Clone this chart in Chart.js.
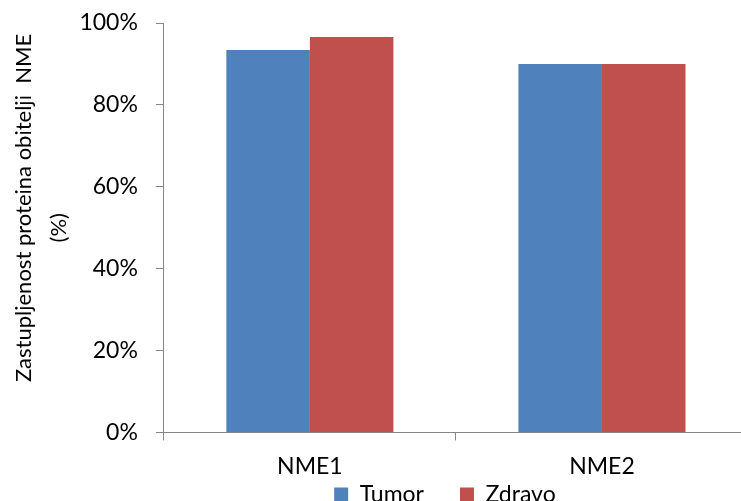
<!DOCTYPE html>
<html>
<head>
<meta charset="utf-8">
<script src="https://cdn.jsdelivr.net/npm/chart.js@4"></script>
<style>
  html, body { margin: 0; padding: 0; background: #fff; overflow: hidden; }
  #wrap { width: 741px; height: 501px; overflow: hidden; }
  canvas { display: block; }
</style>
</head>
<body>
<div id="wrap"><canvas id="chart" width="760" height="561"></canvas></div>
<script>
// DATA
const categories = ["NME1", "NME2"];
const seriesNames = ["Tumor", "Zdravo"];
const tumorValues = [0.934, 0.90];
const zdravoValues = [0.966, 0.90];
const yTicks = [0, 0.2, 0.4, 0.6, 0.8, 1.0];

const axisColor = "#868686";
const fontFamily = "Lato, 'Open Sans', sans-serif";
const legendPad = 36;

// pull the legend up under the category labels, like the original
const legendShift = {
  id: "legendShift",
  afterLayout(chart) {
    const lg = chart.legend;
    const dy = chart.chartArea.bottom + 50.5 - legendPad - lg.top;
    lg.top += dy;
    lg.bottom += dy;
    lg.left -= 11;
    lg.right -= 11;
  }
};

new Chart(document.getElementById("chart"), {
  type: "bar",
  data: {
    labels: categories,
    datasets: [
      {
        label: seriesNames[0],
        data: tumorValues,
        backgroundColor: "#4F81BD",
        categoryPercentage: 0.572,
        barPercentage: 1.0
      },
      {
        label: seriesNames[1],
        data: zdravoValues,
        backgroundColor: "#C0504D",
        categoryPercentage: 0.572,
        barPercentage: 1.0
      }
    ]
  },
  plugins: [legendShift],
  options: {
    responsive: false,
    animation: false,
    layout: { padding: { left: 6, right: 12, top: 23, bottom: 0 } },
    plugins: {
      tooltip: { enabled: false },
      legend: {
        position: "bottom",
        fullSize: false,
        labels: {
          boxWidth: 14,
          boxHeight: 14,
          padding: legendPad,
          color: "#000",
          font: { family: fontFamily, size: 23 }
        }
      }
    },
    scales: {
      x: {
        grid: { drawOnChartArea: false, drawTicks: true, tickLength: 8, color: axisColor, offset: true },
        border: { color: axisColor, width: 1 },
        ticks: { color: "#000", padding: 12, font: { family: fontFamily, size: 23 } }
      },
      y: {
        min: 0,
        max: 1,
        afterBuildTicks: axis => { axis.ticks = yTicks.map(v => ({ value: v })); },
        grid: { drawOnChartArea: false, drawTicks: true, tickLength: 8, color: axisColor },
        border: { color: axisColor, width: 1 },
        ticks: {
          color: "#000",
          padding: 18,
          font: { family: fontFamily, size: 23, lineHeight: 0.4 },
          callback: v => Math.round(v * 100) + "%"
        },
        title: {
          display: true,
          // leading spaces lift the first line a little, as in the original
          text: ["       Zastupljenost proteina obitelji  NME", "(%)"],
          color: "#000",
          padding: { top: 0, bottom: -15 },
          font: { family: fontFamily, size: 22, lineHeight: 1.6 }
        }
      }
    }
  }
});
</script>
</body>
</html>
